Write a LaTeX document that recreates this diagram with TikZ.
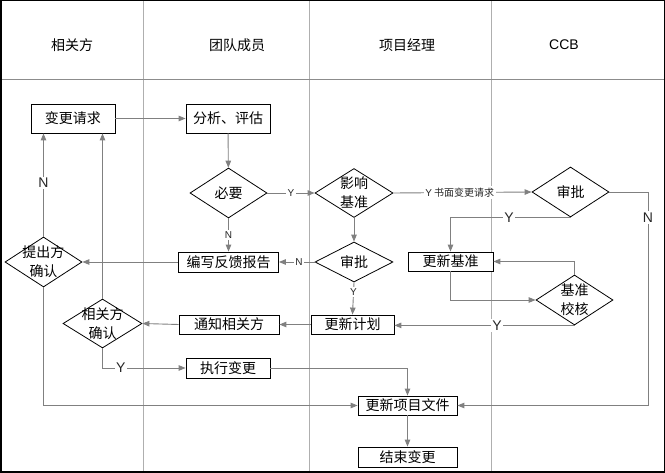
\documentclass[tikz,border=0pt]{standalone}
\usepackage{fontspec}
\setmainfont{Noto Sans CJK SC}
\newfontfamily\latfont{Liberation Sans}
\usetikzlibrary{shapes.geometric,arrows.meta}
\definecolor{conngray}{RGB}{128,128,128}
\definecolor{lanegray}{RGB}{175,175,175}
\definecolor{headgray}{RGB}{140,140,140}
\begin{document}
\begin{tikzpicture}[x=1pt,y=-1pt,
  every node/.style={font=\fontsize{14}{16}\selectfont},
  box/.style={draw=black,line width=0.8pt,fill=white,inner sep=0pt,rectangle},
  dia/.style={draw=black,line width=0.8pt,fill=white,diamond,inner sep=0pt,minimum width=77pt,minimum height=50pt},
  dtext/.style={align=center,inner sep=0pt,font=\fontsize{14}{19}\selectfont},
  conn/.style={draw=conngray,line width=0.9pt,-{Triangle[length=7pt,width=5.5pt]}},
  lane/.style={draw=lanegray,line width=0.9pt},
  biglbl/.style={fill=white,inner sep=1.5pt,font=\latfont\fontsize{14}{16}\selectfont,text=black!85},
  smalllbl/.style={fill=white,inner sep=1.5pt,font=\fontsize{10}{12}\selectfont,text=black!85},
  head/.style={font=\fontsize{14}{16}\selectfont},
]
\useasboundingbox (0,0) rectangle (665,473);
% lanes
\draw[lane] (143,0) -- (143,473);
\draw[lane] (309,0) -- (309,473);
\draw[lane] (491,0) -- (491,473);
\draw[draw=headgray,line width=1pt] (0,80) -- (665,80);
\node[head] (h1) at (72,45) {相关方};
\node[head] (h2) at (237,45) {团队成员};
\node[head] (h3) at (407,45) {项目经理};
\node[head,font=\latfont\fontsize{14}{16}\selectfont] (h4) at (564,45) {CCB};
\draw[black,line width=1.5pt] (0.75,0.75) rectangle (664.25,472.25);

% boxes
\node[box,minimum width=84pt,minimum height=29pt] (req) at (73,118.5) {变更请求};
\node[box,minimum width=84pt,minimum height=29pt] (ana) at (228,118.5) {分析、评估};
\node[box,minimum width=100pt,minimum height=20pt] (rep) at (228.5,262) {编写反馈报告};
\node[box,minimum width=100pt,minimum height=19pt] (notify) at (229,324.5) {通知相关方};
\node[box,minimum width=84pt,minimum height=20pt] (exec) at (228,368) {执行变更};
\node[box,minimum width=83pt,minimum height=19pt] (plan) at (352.5,324.5) {更新计划};
\node[box,minimum width=85pt,minimum height=19pt] (base) at (450.5,261.5) {更新基准};
\node[box,minimum width=99pt,minimum height=19pt] (docs) at (407.5,405.5) {更新项目文件};
\node[box,minimum width=99pt,minimum height=20pt] (fin) at (407.5,457) {结束变更};

% diamonds
\node[dia] (need) at (228.5,193) {};
\node[dtext] (needt) at (need) {必要};
\node[dia,minimum width=78pt,minimum height=49pt] (imp) at (354,193) {};
\node[dtext] (impt) at (imp) {影响\\基准};
\node[dia,minimum width=78pt,minimum height=40pt] (pmok) at (354,262) {};
\node[dtext] (pmokt) at (pmok) {审批};
\node[dia] (ccb) at (570.5,192) {};
\node[dtext] (ccbt) at (ccb) {审批};
\node[dia] (chk) at (574.5,300) {};
\node[dtext] (chkt) at (chk) {基准\\校核};
\node[dia] (prop) at (43.5,262) {};
\node[dtext] (propt) at (prop) {提出方\\确认};
\node[dia,minimum width=79pt,minimum height=49pt] (stk) at (102.5,323.5) {};
\node[dtext] (stkt) at (stk) {相关方\\确认};

\coordinate (ccbN) at (648,192);

% connectors
\draw[conn] (req) -- (ana);
\draw[conn] (ana) -- (need);
\draw[conn] (need.east) -- node[smalllbl,font=\latfont\fontsize{10}{12}\selectfont]{Y} (imp.west);
\draw[conn] (need.south) -- node[smalllbl,font=\latfont\fontsize{10}{12}\selectfont]{N} (rep.north);
\draw[conn] (imp.south) -- (pmok.north);
\draw[conn] (imp.east) -- node[smalllbl,pos=0.48]{{\latfont Y} 书面变更请求} (ccb.west);
\draw[conn] (pmok.west) -- node[smalllbl,pos=0.44,font=\latfont\fontsize{10}{12}\selectfont]{N} (rep.east);
\draw[conn] (pmok.south) -- node[smalllbl,pos=0.3,font=\latfont\fontsize{10}{12}\selectfont]{Y} (plan.north);
\draw[conn] (rep.west) -- (prop.east);
\draw[conn] (prop.north) -- node[biglbl,pos=0.52]{N} (prop.north |- req.south);
\draw[conn] (stk.north) -- (stk.north |- req.south);
\draw[conn] (prop.south) |- (docs.west);
\draw[conn] (plan.west) -- (notify.east);
\draw[conn] (notify.west) -- (stk.east);
\draw[conn] (stk.south) |- node[biglbl,pos=0.61]{Y} (exec.west);
\draw[conn] (exec.east) -| (docs.north);
\draw[conn] (docs.south) -- (fin.north);
\draw[conn] (ccb.east) -- (ccbN) -- node[biglbl,pos=0.12]{N} (ccbN |- docs.east) -- (docs.east);
\draw[conn] (ccb.south) -| node[biglbl,pos=0.256]{Y} (base.north);
\draw[conn] (base.south) |- (chk.west);
\draw[conn] (chk.north) |- (base.east);
\draw[conn] (chk.south) -- node[biglbl,pos=0.43]{Y} (chk.south -| plan.east);
\end{tikzpicture}
\end{document}
